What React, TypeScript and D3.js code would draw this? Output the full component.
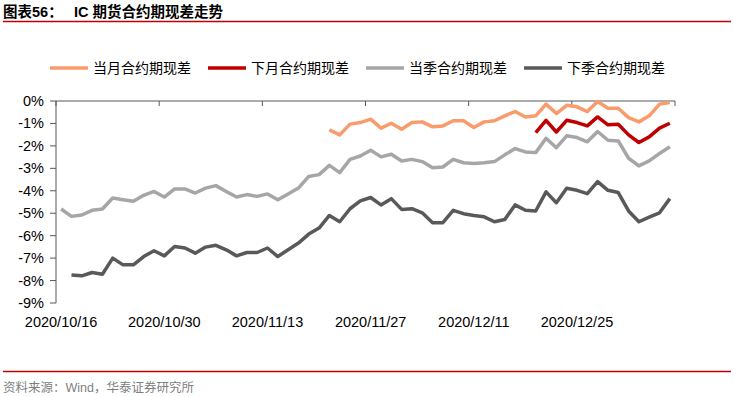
import React, { useEffect, useRef } from "react";
import * as d3 from "d3";

const dates = [
  "2020/10/16", "2020/10/19", "2020/10/20", "2020/10/21", "2020/10/22", "2020/10/23",
  "2020/10/26", "2020/10/27", "2020/10/28", "2020/10/29", "2020/10/30",
  "2020/11/2", "2020/11/3", "2020/11/4", "2020/11/5", "2020/11/6",
  "2020/11/9", "2020/11/10", "2020/11/11", "2020/11/12", "2020/11/13",
  "2020/11/16", "2020/11/17", "2020/11/18", "2020/11/19", "2020/11/20",
  "2020/11/23", "2020/11/24", "2020/11/25", "2020/11/26", "2020/11/27",
  "2020/11/30", "2020/12/1", "2020/12/2", "2020/12/3", "2020/12/4",
  "2020/12/7", "2020/12/8", "2020/12/9", "2020/12/10", "2020/12/11",
  "2020/12/14", "2020/12/15", "2020/12/16", "2020/12/17", "2020/12/18",
  "2020/12/21", "2020/12/22", "2020/12/23", "2020/12/24", "2020/12/25",
  "2020/12/28", "2020/12/29", "2020/12/30", "2020/12/31",
  "2021/1/4", "2021/1/5", "2021/1/6", "2021/1/7", "2021/1/8",
];

const _ = null;

// 当月合约期现差 (%)
const currentMonth: (number | null)[] = [
  _, _, _, _, _, _, _, _, _, _,
  _, _, _, _, _, _, _, _, _, _,
  _, _, _, _, _, _, -1.29, -1.51, -1.03, -0.96,
  -0.81, -1.21, -0.99, -1.26, -0.96, -0.93, -1.15, -1.11, -0.88, -0.88,
  -1.18, -0.93, -0.88, -0.66, -0.47, -0.71, -0.66, -0.14, -0.56, -0.19,
  -0.26, -0.47, -0.02, -0.32, -0.32, -0.74, -0.93, -0.66, -0.14, -0.07,
];

// 下月合约期现差 (%)
const nextMonth: (number | null)[] = [
  _, _, _, _, _, _, _, _, _, _,
  _, _, _, _, _, _, _, _, _, _,
  _, _, _, _, _, _, _, _, _, _,
  _, _, _, _, _, _, _, _, _, _,
  _, _, _, _, _, _, -1.41, -0.86, -1.38, -0.86,
  -0.96, -1.11, -0.71, -1.06, -1.04, -1.51, -1.85, -1.6, -1.21, -0.99,
];

// 当季合约期现差 (%)
const currentQuarter: (number | null)[] = [
  -4.81, -5.14, -5.08, -4.87, -4.81, -4.32, -4.4, -4.47, -4.2, -4.03,
  -4.28, -3.92, -3.92, -4.1, -3.88, -3.77, -4.03, -4.28, -4.17, -4.25,
  -4.14, -4.4, -4.14, -3.88, -3.36, -3.28, -2.87, -3.19, -2.6, -2.45,
  -2.19, -2.49, -2.37, -2.67, -2.6, -2.7, -2.97, -2.94, -2.6, -2.75,
  -2.78, -2.75, -2.7, -2.4, -2.12, -2.27, -2.3, -1.66, -2.08, -1.55,
  -1.63, -1.82, -1.36, -1.75, -1.78, -2.55, -2.89, -2.67, -2.34, -2.04,
];

// 下季合约期现差 (%)
const nextQuarter: (number | null)[] = [
  _, -7.75, -7.79, -7.64, -7.72, -7.0, -7.3, -7.3, -6.93, -6.67,
  -6.9, -6.48, -6.55, -6.78, -6.51, -6.43, -6.63, -6.9, -6.75, -6.75,
  -6.55, -6.93, -6.63, -6.33, -5.93, -5.66, -5.1, -5.38, -4.8, -4.45,
  -4.3, -4.63, -4.35, -4.83, -4.8, -4.98, -5.42, -5.42, -4.87, -5.02,
  -5.1, -5.16, -5.38, -5.28, -4.63, -4.87, -4.9, -4.05, -4.53, -3.89,
  -3.98, -4.13, -3.59, -3.98, -4.08, -4.9, -5.38, -5.17, -4.98, -4.35,
];

const seriesNames = ["当月合约期现差", "下月合约期现差", "当季合约期现差", "下季合约期现差"];
const seriesColors = ["#F99B6C", "#C00000", "#A6A6A6", "#595959"];
const yTicks = [0, -1, -2, -3, -4, -5, -6, -7, -8, -9];

const App = () => {
  const svgEl = useRef<SVGSVGElement | null>(null);

  useEffect(() => {
    if (!svgEl.current) return;
    drawChartOn(svgEl.current);
  }, [svgEl]);

  return (
    <svg
      ref={svgEl}
      width={734}
      height={397}
      style={{ position: "absolute", left: 0, top: 0, background: "#fff" }}
    ></svg>
  );
};

function drawChartOn(svgEl: SVGSVGElement) {
  const svg = d3.select(svgEl);
  svg.selectAll("*").remove();

  const latin = "'Liberation Sans', Arial, sans-serif";
  const cjk = "'Liberation Sans', 'Noto Sans CJK SC', sans-serif";

  // title + rules
  svg
    .append("text")
    .attr("x", 3)
    .attr("y", 17)
    .attr("font-family", cjk)
    .attr("font-size", 14.5)
    .attr("font-weight", "bold")
    .attr("fill", "#000")
    .text("图表56：");
  svg
    .append("text")
    .attr("x", 74)
    .attr("y", 17)
    .attr("font-family", cjk)
    .attr("font-size", 14.5)
    .attr("font-weight", "bold")
    .attr("fill", "#000")
    .text("IC 期货合约期现差走势");
  svg
    .append("line")
    .attr("x1", 3)
    .attr("x2", 731)
    .attr("y1", 21.5)
    .attr("y2", 21.5)
    .attr("stroke", "#C00000")
    .attr("stroke-width", 1.3);
  svg
    .append("line")
    .attr("x1", 3)
    .attr("x2", 731)
    .attr("y1", 371.5)
    .attr("y2", 371.5)
    .attr("stroke", "#C00000")
    .attr("stroke-width", 1.3);
  svg
    .append("text")
    .attr("x", 3)
    .attr("y", 392)
    .attr("font-family", cjk)
    .attr("font-size", 12.5)
    .attr("fill", "#7F7F7F")
    .text("资料来源：Wind，华泰证券研究所");

  // scales
  const x = d3.scaleBand<number>().domain(d3.range(dates.length)).range([56, 675]);
  const y = d3.scaleLinear().domain([0, -9]).range([101, 303]);
  const cx = (i: number) => (x(i) as number) + x.bandwidth() / 2;

  // y axis
  const yAxis = svg.append("g");
  yAxis
    .append("line")
    .attr("x1", 56)
    .attr("x2", 56)
    .attr("y1", y(0))
    .attr("y2", y(-9))
    .attr("stroke", "#595959")
    .attr("stroke-width", 1);
  yAxis
    .selectAll("line.tick")
    .data(yTicks)
    .enter()
    .append("line")
    .attr("class", "tick")
    .attr("x1", 50)
    .attr("x2", 56)
    .attr("y1", (d) => y(d))
    .attr("y2", (d) => y(d))
    .attr("stroke", "#595959");
  yAxis
    .selectAll("text")
    .data(yTicks)
    .enter()
    .append("text")
    .attr("x", 44)
    .attr("y", (d) => y(d) + 5)
    .attr("text-anchor", "end")
    .attr("font-family", latin)
    .attr("font-size", 14.5)
    .attr("fill", "#000")
    .text((d) => d + "%");

  // x axis at 0%
  const xAxis = svg.append("g");
  xAxis
    .append("line")
    .attr("x1", 56)
    .attr("x2", 675)
    .attr("y1", y(0))
    .attr("y2", y(0))
    .attr("stroke", "#595959");
  const boundaries = d3.range(0, dates.length + 1, 10);
  xAxis
    .selectAll("line.tick")
    .data(boundaries)
    .enter()
    .append("line")
    .attr("class", "tick")
    .attr("x1", (d) => (d < dates.length ? (x(d) as number) : 675))
    .attr("x2", (d) => (d < dates.length ? (x(d) as number) : 675))
    .attr("y1", y(0))
    .attr("y2", y(0) + 5)
    .attr("stroke", "#595959");
  xAxis
    .selectAll("text")
    .data(d3.range(0, dates.length, 10).filter((i) => i < 60))
    .enter()
    .append("text")
    .attr("x", (d) => cx(d))
    .attr("y", 327)
    .attr("text-anchor", "middle")
    .attr("font-family", latin)
    .attr("font-size", 14.5)
    .attr("fill", "#000")
    .text((d) => dates[d]);

  // lines
  const allSeries = [currentMonth, nextMonth, currentQuarter, nextQuarter];
  const line = d3
    .line<number | null>()
    .defined((d) => d !== null)
    .x((_d, i) => cx(i))
    .y((d) => y(d as number));

  // draw back to front
  [3, 2, 0, 1].forEach((k) => {
    svg
      .append("path")
      .attr("d", line(allSeries[k]) as string)
      .attr("fill", "none")
      .attr("stroke", seriesColors[k])
      .attr("stroke-width", 3.5)
      .attr("stroke-linejoin", "round");
  });

  // legend
  const legend = svg
    .selectAll("g.legend")
    .data(seriesNames)
    .enter()
    .append("g")
    .attr("class", "legend")
    .attr("transform", (_d, i) => "translate(" + (50 + i * 158) + ",68)");
  legend
    .append("line")
    .attr("x1", 0)
    .attr("x2", 38)
    .attr("y1", 0)
    .attr("y2", 0)
    .attr("stroke", (_d, i) => seriesColors[i])
    .attr("stroke-width", 3.5);
  legend
    .append("text")
    .attr("x", 43)
    .attr("y", 5)
    .attr("font-family", "'Noto Sans CJK SC', sans-serif")
    .attr("font-size", 14)
    .attr("fill", "#000")
    .text((d) => d);
}

export default App;
